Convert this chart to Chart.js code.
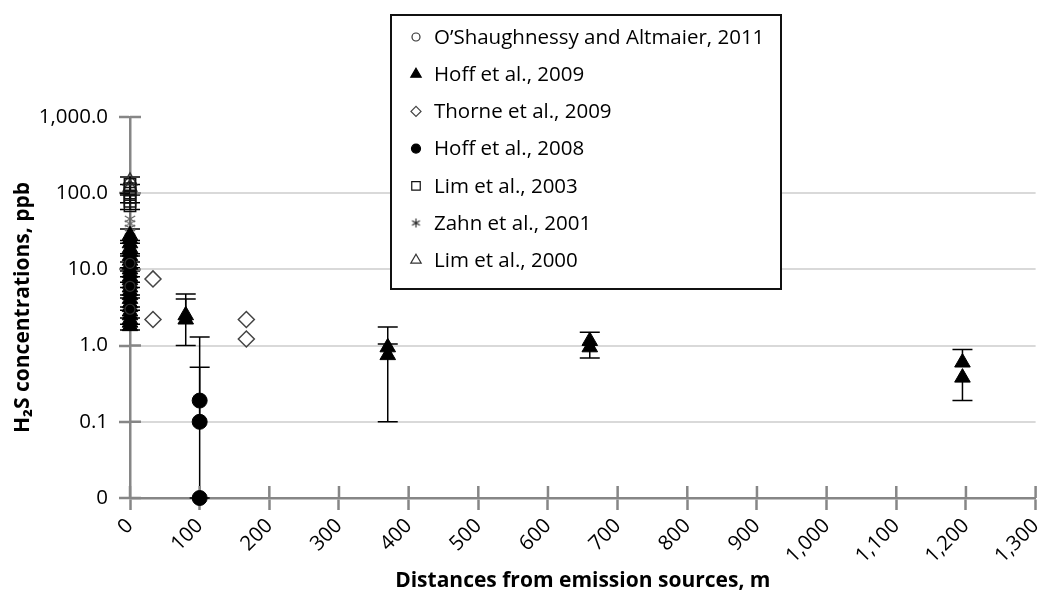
<!DOCTYPE html>
<html>
<head>
<meta charset="utf-8">
<script src="https://cdn.jsdelivr.net/npm/chart.js@4.4.1/dist/chart.umd.min.js"></script>
<style>
  html, body { margin: 0; padding: 0; background: #fff; }
  #wrap { width: 1057px; height: 602px; }
</style>
</head>
<body>
<div id="wrap"><canvas id="chart"></canvas></div>
<script>
// axis ticks
const xTicks = [0, 100, 200, 300, 400, 500, 600, 700, 800, 900, 1000, 1100, 1200, 1300];
const xTickLabels = ['0', '100', '200', '300', '400', '500', '600', '700', '800', '900', '1,000', '1,100', '1,200', '1,300'];
const yTicks = [0.01, 0.1, 1, 10, 100, 1000];
const yTickLabels = ['0', '0.1', '1.0', '10.0', '100.0', '1,000.0'];

// O'Shaughnessy and Altmaier, 2011
const oshX = [0, 0, 0];
const oshY = [12, 6, 3];

// Hoff et al., 2009
const hoff09X = [0, 0, 0, 0, 0, 0, 0, 0, 0, 0, 0, 0, 0, 0, 0, 0, 0, 0, 0, 0, 0, 0, 0, 0,
                 80, 80, 370, 370, 660, 660, 1195, 1195];
const hoff09Y = [28, 25, 22, 19, 17, 15, 13, 11.5, 10, 9, 8, 7.2, 6.5, 5.8, 5.2, 4.6, 4.1, 3.6, 3.2, 2.8, 2.5, 2.2, 2.0, 1.8,
                 2.5, 2.2, 0.95, 0.75, 1.15, 0.95, 0.6, 0.38];
const hoff09Lo = [22, null, null, 15, null, null, 10.5, null, 8, null, null, 5.8, null, null, 4.2, null, null, 2.9, null, null, 1.9, null, null, 1.6,
                  1.0, null, 0.1, null, null, 0.69, null, 0.19];
const hoff09Hi = [34, null, null, 24, null, null, 16, null, 12.5, null, null, 9.5, null, null, 6.8, null, null, 4.6, null, null, 3.2, null, null, 2.3,
                  4.75, 4.1, 1.75, 1.05, 1.5, null, 0.89, null];

// Thorne et al., 2009
const thorneX = [33, 33, 167, 167];
const thorneY = [7.5, 2.2, 2.2, 1.22];

// Hoff et al., 2008
const hoff08X = [100, 100, 100];
const hoff08Y = [0.19, 0.1, 0.01];
const hoff08Lo = [0.01, null, null];
const hoff08Hi = [1.3, 0.52, null];

// Lim et al., 2003
const lim03X = [0, 0, 0, 0, 0, 0];
const lim03Y = [130, 115, 100, 88, 78, 68];
const lim03Lo = [100, null, 75, null, 61, null];
const lim03Hi = [163, null, 130, null, 95, null];

// Zahn et al., 2001
const zahnX = [0, 0, 0, 0, 0];
const zahnY = [46, 40, 35, 31, 27];

// Lim et al., 2000
const lim00X = [0, 0];
const lim00Y = [145, 120];

const pts = (xs, ys) => xs.map((x, i) => ({ x: x, y: ys[i] }));

function asterisk(size, color, lw) {
    const c = document.createElement('canvas');
    c.width = size; c.height = size;
    const g = c.getContext('2d');
    g.strokeStyle = color; g.lineWidth = lw;
    const r = size / 2 - 1;
    g.beginPath();
    [90, 30, 150].forEach(a => {
        const t = a * Math.PI / 180;
        g.moveTo(size / 2 - Math.cos(t) * r, size / 2 - Math.sin(t) * r);
        g.lineTo(size / 2 + Math.cos(t) * r, size / 2 + Math.sin(t) * r);
    });
    g.stroke();
    return c;
}

const AXIS = '#868686';

// error bars, drawn from the scales
const errorBars = {
    id: 'errorBars',
    beforeDatasetsDraw(chart) {
        const { ctx, scales: { x, y } } = chart;
        ctx.save();
        ctx.strokeStyle = '#000';
        ctx.lineWidth = 1.5;
        chart.data.datasets.forEach(ds => {
            if (!ds.errLo) return;
            ds.data.forEach((p, j) => {
                const lo = ds.errLo[j], hi = ds.errHi[j];
                if (lo == null && hi == null) return;
                const px = x.getPixelForValue(p.x);
                const top = y.getPixelForValue(hi != null ? hi : p.y);
                const bot = y.getPixelForValue(lo != null ? lo : p.y);
                ctx.beginPath();
                ctx.moveTo(px, top); ctx.lineTo(px, bot);
                if (hi != null) { ctx.moveTo(px - 10, top); ctx.lineTo(px + 10, top); }
                if (lo != null) { ctx.moveTo(px - 10, bot); ctx.lineTo(px + 10, bot); }
                ctx.stroke();
            });
        });
        ctx.restore();
    }
};

// inner half of the crossing tick marks
const crossTicks = {
    id: 'crossTicks',
    beforeDatasetsDraw(chart) {
        const { ctx, chartArea: a, scales: { x, y } } = chart;
        ctx.save();
        ctx.strokeStyle = AXIS;
        ctx.lineWidth = 2.5;
        ctx.beginPath();
        y.ticks.forEach(t => {
            const py = y.getPixelForValue(t.value);
            ctx.moveTo(a.left, py); ctx.lineTo(a.left + 11, py);
        });
        x.ticks.forEach(t => {
            const px = x.getPixelForValue(t.value);
            ctx.moveTo(px, a.bottom); ctx.lineTo(px, a.bottom - 12);
        });
        ctx.stroke();
        ctx.restore();
    }
};

// boxed legend placed over the plot
const boxLegend = {
    id: 'boxLegend',
    afterDraw(chart) {
        const ctx = chart.ctx;
        const bx = 391, by = 15, bw = 390, bh = 274;
        ctx.save();
        ctx.fillStyle = '#fff';
        ctx.fillRect(bx, by, bw, bh);
        ctx.strokeStyle = '#111';
        ctx.lineWidth = 2;
        ctx.strokeRect(bx, by, bw, bh);
        ctx.font = "20.5px 'Open Sans'";
        ctx.textBaseline = 'middle';
        chart.data.datasets.forEach((ds, i) => {
            const ry = 37 + i * 37.2;
            ctx.fillStyle = ds.legendFill;
            ctx.strokeStyle = ds.borderColor;
            ctx.lineWidth = 1.2;
            Chart.helpers.drawPoint(ctx, {
                pointStyle: ds.legendStyle || ds.pointStyle,
                radius: ds.legendRadius, rotation: 0, borderWidth: 1.2
            }, 416, ry);
            ctx.fillStyle = '#000';
            ctx.fillText(ds.label, 434, ry + 1);
        });
        ctx.restore();
    }
};

Chart.defaults.font.family = "'Open Sans', sans-serif";
Chart.defaults.color = '#000';

new Chart(document.getElementById('chart'), {
    type: 'scatter',
    data: {
        datasets: [{
            label: 'O\u2019Shaughnessy and Altmaier, 2011',
            data: pts(oshX, oshY),
            pointStyle: 'circle', pointRadius: 5, borderWidth: 1.2,
            borderColor: '#333', backgroundColor: 'rgba(0,0,0,0)',
            legendFill: '#fff', legendRadius: 4
        }, {
            label: 'Hoff et al., 2009',
            data: pts(hoff09X, hoff09Y), errLo: hoff09Lo, errHi: hoff09Hi,
            pointStyle: 'triangle', pointRadius: 9, borderWidth: 1,
            borderColor: '#000', backgroundColor: '#000',
            legendFill: '#000', legendRadius: 6
        }, {
            label: 'Thorne et al., 2009',
            data: pts(thorneX, thorneY),
            pointStyle: 'rectRot', pointRadius: 8, borderWidth: 1.5,
            borderColor: '#444', backgroundColor: 'rgba(0,0,0,0)',
            legendFill: '#fff', legendRadius: 5
        }, {
            label: 'Hoff et al., 2008',
            data: pts(hoff08X, hoff08Y), errLo: hoff08Lo, errHi: hoff08Hi,
            pointStyle: 'circle', pointRadius: 7.5, borderWidth: 1,
            borderColor: '#000', backgroundColor: '#000',
            legendFill: '#000', legendRadius: 4.5
        }, {
            label: 'Lim et al., 2003',
            data: pts(lim03X, lim03Y), errLo: lim03Lo, errHi: lim03Hi,
            pointStyle: 'rect', pointRadius: 8, borderWidth: 1.5,
            borderColor: '#111', backgroundColor: 'rgba(0,0,0,0)',
            legendFill: '#fff', legendRadius: 6
        }, {
            label: 'Zahn et al., 2001',
            data: pts(zahnX, zahnY),
            pointStyle: asterisk(14, '#666', 1.3), pointRadius: 7,
            borderColor: '#666', backgroundColor: '#666',
            legendStyle: asterisk(11, '#222', 1.1), legendFill: '#222', legendRadius: 5
        }, {
            label: 'Lim et al., 2000',
            data: pts(lim00X, lim00Y),
            pointStyle: 'triangle', pointRadius: 8, borderWidth: 1.3,
            borderColor: '#333', backgroundColor: 'rgba(0,0,0,0)',
            legendFill: '#fff', legendRadius: 6
        }].map(d => Object.assign(d, { clip: false }))
    },
    options: {
        responsive: true,
        maintainAspectRatio: false,
        animation: false,
        layout: { padding: { top: 117, right: 10, bottom: 0, left: 0 } },
        plugins: { legend: { display: false }, tooltip: { enabled: false } },
        scales: {
            x: {
                type: 'linear', min: 0, max: 1300,
                afterBuildTicks: s => { s.ticks = xTicks.map(v => ({ value: v })); },
                afterFit: s => { s.height = 104; },
                border: { color: AXIS, width: 2.5 },
                grid: { drawOnChartArea: false, tickLength: 12, tickColor: AXIS, tickWidth: 2.5 },
                ticks: {
                    autoSkip: false, minRotation: 45, maxRotation: 45, padding: 4,
                    font: { size: 20.5 }, color: '#000',
                    callback: (v, i) => xTickLabels[i]
                },
                title: {
                    display: true, text: 'Distances from emission sources, m',
                    font: { size: 21, weight: 'bold' }, color: '#000',
                    padding: { top: 0, bottom: 8 }
                }
            },
            y: {
                type: 'logarithmic', min: 0.01, max: 1000,
                afterBuildTicks: s => { s.ticks = yTicks.map(v => ({ value: v })); },
                afterFit: s => { s.width = 130; },
                border: { color: AXIS, width: 2.5 },
                grid: {
                    color: c => (c.tick && (c.tick.value === 1000 || c.tick.value === 0.01)) ? 'rgba(0,0,0,0)' : '#d9d9d9',
                    lineWidth: 2, tickLength: 11, tickColor: AXIS, tickWidth: 2.5
                },
                ticks: {
                    padding: 11, font: { size: 20.5 }, color: '#000',
                    callback: (v, i) => yTickLabels[i]
                },
                title: {
                    display: true, text: 'H\u2082S concentrations, ppb',
                    font: { size: 21, weight: 'bold' }, color: '#000',
                    padding: { top: 10, bottom: 0 }
                }
            }
        }
    },
    plugins: [errorBars, crossTicks, boxLegend]
});
</script>
</body>
</html>
